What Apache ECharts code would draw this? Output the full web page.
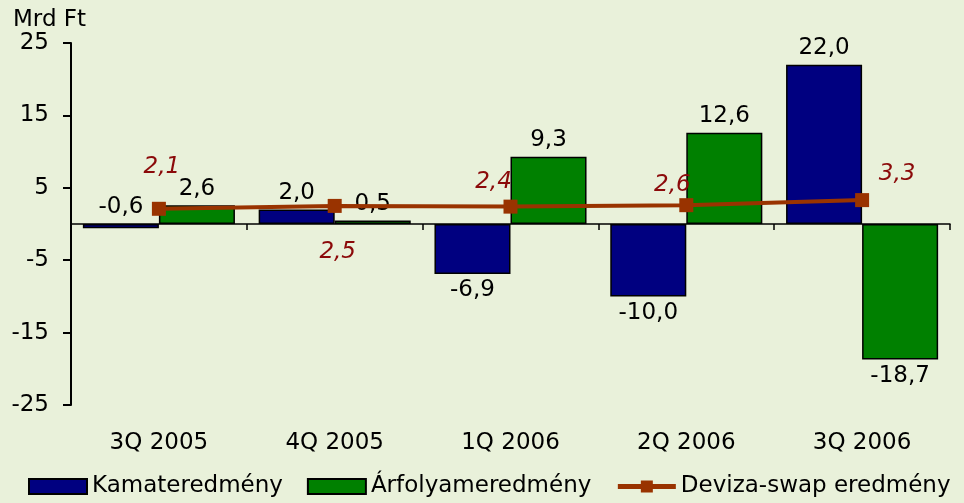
<!DOCTYPE html>
<html>
<head>
<meta charset="utf-8">
<script src="https://cdn.jsdelivr.net/npm/echarts@6/dist/echarts.min.js"></script>
<style>
    html, body { margin: 0; padding: 0; background: #E9F1DA; }
    #main { width: 964px; height: 503px; }
</style>
</head>
<body>
<div id="main"></div>
<script>
var categories = ['3Q 2005', '4Q 2005', '1Q 2006', '2Q 2006', '3Q 2006'];
var kamatValues = [-0.6, 2.0, -6.9, -10.0, 22.0];
var arfolyamValues = [2.6, 0.5, 9.3, 12.6, -18.7];
var swapValues = [2.1, 2.5, 2.4, 2.6, 3.3];
var yTicks = [-25, -15, -5, 5, 15, 25];

(function () {
    var font = 'DejaVu Sans';
    var fs = 23;
    var fmt = function (v) { return v.toFixed(1).replace('.', ','); };

    // label goes under negative bars, the tiny -0,6 stays on top
    function barData(values) {
        return values.map(function (v) {
            return {
                value: v,
                label: { position: v < -1 ? 'bottom' : 'top' }
            };
        });
    }

    // hand placed offsets of the italic swap labels
    var swapOffsets = [[3, -42], [3, 46], [-17, -25], [-14, -20], [35, -26]];

    var myChart = echarts.init(document.getElementById('main'));
    var option = {
        backgroundColor: '#E9F1DA',
        textStyle: { fontFamily: font },
        title: {
            text: 'Mrd Ft',
            left: 8,
            top: 4,
            textStyle: { fontFamily: font, fontSize: fs, fontWeight: 'normal', color: '#000' }
        },
        grid: { left: 71, right: 14, top: 43, bottom: 98 },
        legend: {
            left: 28,
            width: 936,
            bottom: 5,
            padding: 0,
            itemWidth: 58,
            itemHeight: 15,
            itemGap: 24,
            textStyle: { fontFamily: font, fontSize: fs, color: '#000' },
            data: [
                { name: 'Kamateredmény', icon: 'rect' },
                { name: 'Árfolyameredmény', icon: 'rect' },
                { name: 'Deviza-swap eredmény', lineStyle: { width: 5 } }
            ]
        },
        xAxis: [
            {
                type: 'category',
                data: categories,
                axisLine: { onZero: true, lineStyle: { color: '#000', width: 1.5 } },
                axisTick: { show: true, length: 6, lineStyle: { color: '#000', width: 1.5 } },
                axisLabel: { show: false }
            },
            {
                type: 'category',
                data: categories,
                position: 'bottom',
                axisLine: { show: false, onZero: false },
                axisTick: { show: false },
                axisLabel: { margin: 27, fontFamily: font, fontSize: fs, color: '#000' }
            }
        ],
        yAxis: {
            type: 'value',
            min: yTicks[0],
            max: yTicks[yTicks.length - 1],
            interval: 10,
            splitLine: { show: false },
            axisLine: { show: true, lineStyle: { color: '#000', width: 2 } },
            axisTick: { show: true, length: 8, lineStyle: { color: '#000', width: 2 } },
            axisLabel: { margin: 22, fontFamily: font, fontSize: fs, color: '#000' }
        },
        series: [
            {
                name: 'Kamateredmény',
                type: 'bar',
                xAxisIndex: 0,
                barGap: '0%',
                barCategoryGap: '13.5%',
                itemStyle: { color: '#000080', borderColor: '#000', borderWidth: 1.5 },
                label: {
                    show: true, distance: 5, fontFamily: font, fontSize: fs, color: '#000',
                    formatter: function (p) { return fmt(p.value); }
                },
                data: barData(kamatValues)
            },
            {
                name: 'Árfolyameredmény',
                type: 'bar',
                xAxisIndex: 0,
                itemStyle: { color: '#008000', borderColor: '#000', borderWidth: 1.5 },
                label: {
                    show: true, distance: 5, fontFamily: font, fontSize: fs, color: '#000',
                    formatter: function (p) { return fmt(p.value); }
                },
                data: barData(arfolyamValues)
            },
            {
                name: 'Deviza-swap eredmény',
                type: 'line',
                xAxisIndex: 0,
                z: 5,
                symbol: 'rect',
                symbolSize: 14,
                lineStyle: { color: '#993300', width: 4 },
                itemStyle: { color: '#993300' },
                label: {
                    show: true, position: 'inside', fontFamily: font, fontSize: fs,
                    fontStyle: 'italic', color: '#8B0A0A',
                    formatter: function (p) { return fmt(p.value); }
                },
                data: swapValues.map(function (v, i) {
                    return { value: v, label: { offset: swapOffsets[i] } };
                })
            }
        ]
    };
    myChart.setOption(option);
})();
</script>
</body>
</html>
